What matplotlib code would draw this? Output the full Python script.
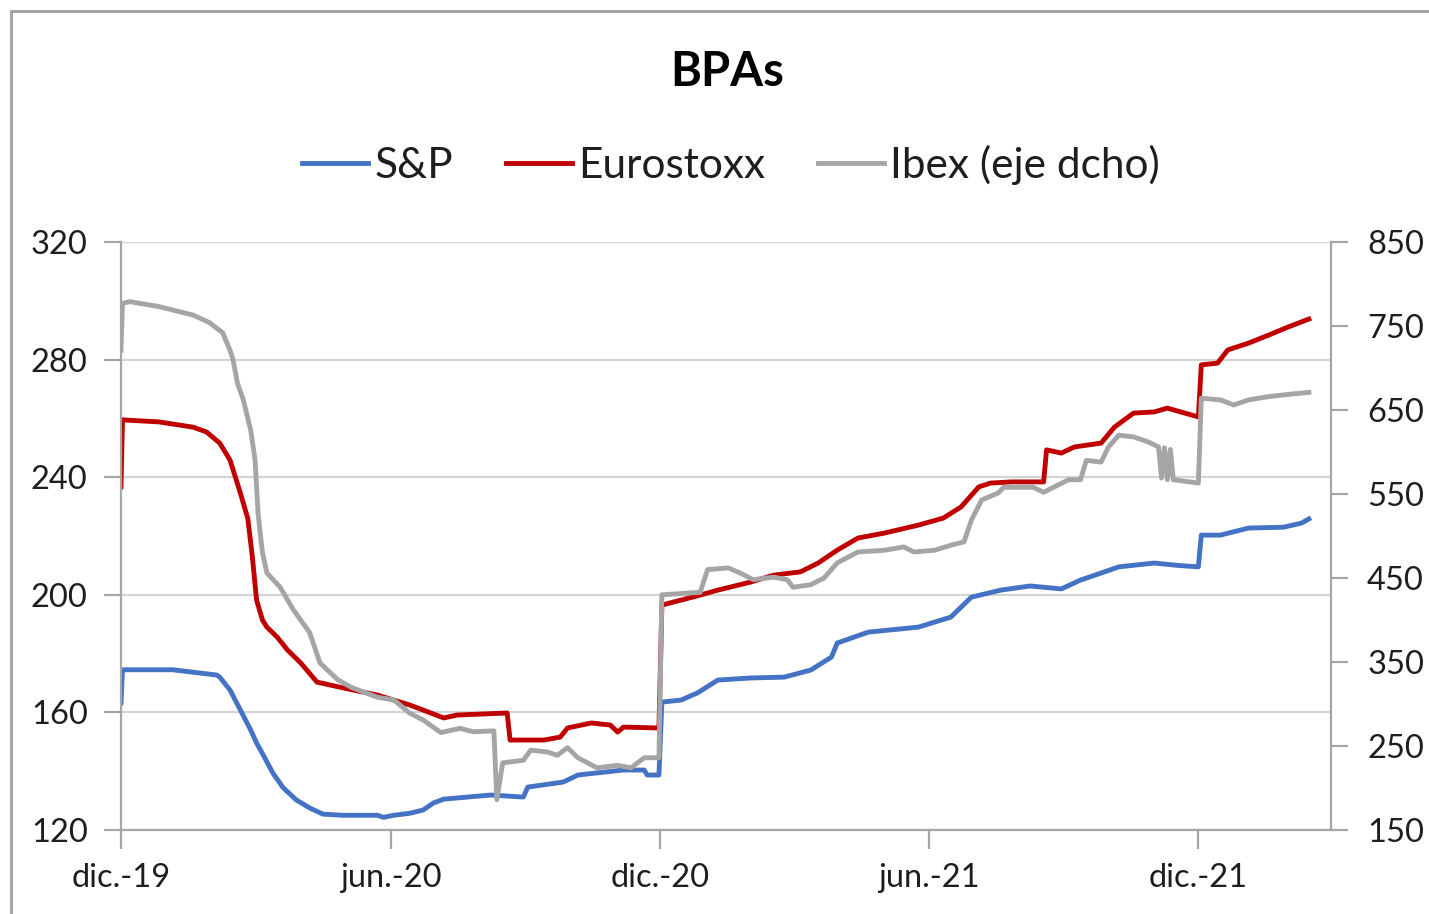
import matplotlib
matplotlib.use("Agg")
import matplotlib.pyplot as plt
from matplotlib.patches import Rectangle
import pandas as pd

plt.rcParams['font.family'] = ['Lato', 'DejaVu Sans']

# S&P (eje izq)
sp_dates = ["2019-12-01", "2019-12-02", "2020-01-05", "2020-02-04", "2020-02-06", "2020-02-13",
            "2020-02-20", "2020-02-27", "2020-03-02", "2020-03-06", "2020-03-13", "2020-03-20",
            "2020-03-29", "2020-04-07", "2020-04-16", "2020-04-30", "2020-05-23", "2020-05-27",
            "2020-06-03", "2020-06-14", "2020-06-23", "2020-06-30", "2020-07-07", "2020-08-08",
            "2020-08-30", "2020-09-02", "2020-09-26", "2020-10-06", "2020-11-06", "2020-11-20",
            "2020-11-22", "2020-11-30", "2020-12-02", "2020-12-15", "2020-12-26", "2021-01-09",
            "2021-01-31", "2021-02-23", "2021-03-13", "2021-03-27", "2021-03-31", "2021-04-21",
            "2021-05-25", "2021-06-16", "2021-06-30", "2021-07-20", "2021-08-09", "2021-08-30",
            "2021-09-12", "2021-09-26", "2021-10-08", "2021-11-01", "2021-11-17", "2021-12-01",
            "2021-12-03", "2021-12-16", "2022-01-04", "2022-01-28", "2022-02-09", "2022-02-14"]
sp_vals = [163.2, 174.5, 174.5, 172.7, 172.0, 167.6,
           160.8, 154.0, 149.6, 146.0, 139.4, 134.4,
           130.2, 127.5, 125.4, 125.0, 125.0, 124.3,
           125.0, 125.7, 126.8, 129.2, 130.5, 131.9,
           131.2, 134.6, 136.3, 138.7, 140.4, 140.4,
           138.7, 138.7, 163.5, 164.2, 166.6, 171.0,
           171.7, 172.0, 174.4, 178.8, 183.6, 187.3,
           189.0, 192.4, 199.2, 201.6, 203.0, 202.0,
           205.0, 207.4, 209.5, 210.8, 210.0, 209.5,
           220.3, 220.3, 222.7, 223.0, 224.4, 225.8]

# Eurostoxx (eje izq)
eu_dates = ["2019-12-01", "2019-12-02", "2019-12-27", "2020-01-19", "2020-01-28", "2020-02-06",
            "2020-02-13", "2020-02-20", "2020-02-25", "2020-02-28", "2020-03-02", "2020-03-06",
            "2020-03-09", "2020-03-16", "2020-03-23", "2020-04-01", "2020-04-12", "2020-04-30",
            "2020-05-23", "2020-06-14", "2020-06-23", "2020-07-07", "2020-07-16", "2020-08-19",
            "2020-08-21", "2020-09-13", "2020-09-24", "2020-09-29", "2020-10-15", "2020-10-28",
            "2020-11-02", "2020-11-06", "2020-11-30", "2020-12-02", "2020-12-28", "2021-01-09",
            "2021-01-31", "2021-02-16", "2021-03-06", "2021-03-18", "2021-03-31", "2021-04-14",
            "2021-05-02", "2021-05-25", "2021-06-11", "2021-06-23", "2021-07-05", "2021-07-13",
            "2021-07-27", "2021-08-18", "2021-08-20", "2021-08-30", "2021-09-08", "2021-09-26",
            "2021-10-05", "2021-10-18", "2021-11-01", "2021-11-10", "2021-11-19", "2021-12-01",
            "2021-12-03", "2021-12-14", "2021-12-21", "2022-01-04", "2022-01-18", "2022-01-31",
            "2022-02-14"]
eu_vals = [236.7, 259.5, 258.8, 257.0, 255.4, 251.6,
           245.8, 234.6, 226.0, 213.5, 198.2, 191.4,
           189.0, 185.6, 181.2, 176.8, 170.3, 168.3,
           165.9, 162.5, 160.8, 158.1, 159.1, 159.8,
           150.6, 150.6, 151.6, 154.7, 156.4, 155.7,
           153.3, 155.0, 154.7, 196.5, 199.9, 201.6,
           204.3, 206.7, 207.8, 210.8, 215.2, 219.3,
           221.0, 223.7, 226.1, 229.9, 236.7, 238.0,
           238.4, 238.4, 249.3, 248.2, 250.3, 251.6,
           257.0, 261.8, 262.2, 263.5, 262.2, 260.5,
           278.2, 278.8, 283.3, 285.6, 288.4, 291.1,
           293.8]

# Ibex (eje dcho)
ib_dates = ["2019-12-01", "2019-12-02", "2019-12-07", "2019-12-27", "2020-01-19", "2020-01-30",
            "2020-02-08", "2020-02-13", "2020-02-15", "2020-02-18", "2020-02-22", "2020-02-27",
            "2020-03-01", "2020-03-03", "2020-03-05", "2020-03-06", "2020-03-09", "2020-03-18",
            "2020-03-27", "2020-04-07", "2020-04-14", "2020-04-26", "2020-05-05", "2020-05-23",
            "2020-06-03", "2020-06-14", "2020-06-23", "2020-07-05", "2020-07-18", "2020-07-27",
            "2020-08-10", "2020-08-12", "2020-08-16", "2020-08-30", "2020-09-04", "2020-09-15",
            "2020-09-22", "2020-09-29", "2020-10-06", "2020-10-19", "2020-11-02", "2020-11-11",
            "2020-11-20", "2020-11-30", "2020-12-02", "2020-12-28", "2021-01-02", "2021-01-16",
            "2021-01-24", "2021-02-02", "2021-02-16", "2021-02-25", "2021-03-01", "2021-03-13",
            "2021-03-22", "2021-03-31", "2021-04-14", "2021-05-02", "2021-05-15", "2021-05-22",
            "2021-06-05", "2021-06-16", "2021-06-25", "2021-06-30", "2021-07-07", "2021-07-18",
            "2021-07-22", "2021-08-11", "2021-08-18", "2021-09-04", "2021-09-12", "2021-09-16",
            "2021-09-26", "2021-10-01", "2021-10-08", "2021-10-18", "2021-10-28", "2021-11-04",
            "2021-11-06", "2021-11-08", "2021-11-10", "2021-11-12", "2021-11-14", "2021-12-01",
            "2021-12-03", "2021-12-16", "2021-12-25", "2022-01-04", "2022-01-18", "2022-01-28",
            "2022-02-14"]
ib_vals = [721, 777, 779, 773, 763, 754,
           742, 721, 710, 682, 662, 626,
           590, 527, 495, 480, 456, 439,
           412, 385, 349, 329, 320, 308,
           305, 289, 281, 266, 271, 267,
           268, 186, 230, 233, 245, 243,
           239, 248, 236, 224, 227, 224,
           236, 236, 430, 433, 460, 462,
           456, 448, 451, 448, 439, 442,
           450, 468, 481, 483, 487, 481,
           483, 489, 493, 519, 543, 551,
           558, 558, 552, 567, 567, 590,
           588, 606, 620, 618, 612, 606,
           569, 605, 567, 603, 567, 563,
           664, 662, 656, 662, 666, 668,
           671]

xtick_dates = ["2019-12-01", "2020-06-01", "2020-12-01", "2021-06-01", "2021-12-01"]
xtick_labels = ["dic.-19", "jun.-20", "dic.-20", "jun.-21", "dic.-21"]
left_ticks = [120, 160, 200, 240, 280, 320]
right_ticks = [150, 250, 350, 450, 550, 650, 750, 850]

W, H = 1429, 914
fig = plt.figure(figsize=(W / 100, H / 100), dpi=100)
ax = fig.add_axes([121 / W, 1 - 830 / H, (1331 - 121) / W, (830 - 242) / H])
ax2 = ax.twinx()

axis_col = "#a6a6a6"
grid_col = "#d4d4d4"
txt_col = "#1e1e1e"
lw = 3.5

l1, = ax.plot(pd.to_datetime(sp_dates), sp_vals, color="#4472c4", lw=lw, label="S&P",
              solid_joinstyle="round")
l2, = ax.plot(pd.to_datetime(eu_dates), eu_vals, color="#c00000", lw=lw, label="Eurostoxx",
              solid_joinstyle="round")
l3, = ax2.plot(pd.to_datetime(ib_dates), ib_vals, color="#a5a5a5", lw=lw, label="Ibex (eje dcho)",
               solid_joinstyle="round")

ax.set_xlim(pd.Timestamp("2019-12-01"), pd.Timestamp("2022-03-01"))
ax.set_ylim(120, 320)
ax2.set_ylim(150, 850)
ax.set_yticks(left_ticks)
ax2.set_yticks(right_ticks)
ax.set_xticks(pd.to_datetime(xtick_dates))
ax.set_xticklabels(xtick_labels)

ax.yaxis.grid(True, color=grid_col, lw=1.6)
ax.set_axisbelow(True)

for a in (ax, ax2):
    a.spines["top"].set_visible(False)
    for s in ("left", "right", "bottom"):
        a.spines[s].set_color(axis_col)
        a.spines[s].set_linewidth(1.6)
    a.tick_params(colors=axis_col, labelcolor=txt_col, labelsize=23.5, width=1.6, length=12)
ax.spines["right"].set_visible(False)
ax2.spines["left"].set_visible(False)
ax2.spines["bottom"].set_visible(False)
ax.tick_params(axis="x", length=14, pad=10)
ax.tick_params(axis="y", pad=12)
ax2.tick_params(axis="y", pad=14)

fig.text(727 / W, 1 - 72 / H, "BPAs", ha="center", va="center", fontsize=34,
         fontweight="bold", color="#000000")

fig.legend(handles=[l1, l2, l3], loc="center", bbox_to_anchor=(731 / W, 1 - 165 / H), ncol=3,
           frameon=False, fontsize=30.5, handlelength=1.55, handletextpad=0.15,
           columnspacing=1.25, labelcolor=txt_col)

# marco del gráfico
fig.patches.append(Rectangle((11 / W, -0.1), 1.2, 1 - 11 / H + 0.1, transform=fig.transFigure,
                             fill=False, edgecolor=axis_col, lw=2.2))

fig.savefig("out.png", dpi=100, facecolor="white")
